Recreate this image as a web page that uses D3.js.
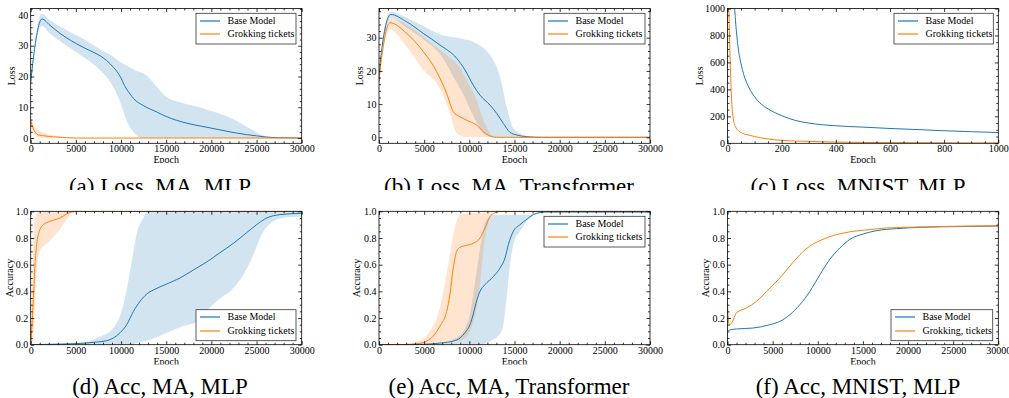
<!DOCTYPE html>
<html>
<head>
<meta charset="utf-8">
<script src="https://cdn.jsdelivr.net/npm/d3@7"></script>
<style>
  html, body { margin: 0; padding: 0; background: #fff; }
  svg { display: block; }
</style>
</head>
<body>
<svg id="chart" width="1009" height="398"></svg>
<script>
// ---- (a) Loss, MA, MLP ----
const aBaseX = [0, 300, 1250, 2140, 3250, 4000, 5100, 6000, 7000, 7700, 8400, 9150, 9500, 10000, 10400, 11000, 11400, 12500, 14000, 15000, 17300, 19500, 21700, 23900, 25000, 26100, 27500, 30000];
const aBaseY = [18, 26, 38.7, 36.6, 34, 32.5, 30.6, 29.2, 27.8, 26.7, 25.2, 23.0, 21.8, 19.5, 17, 14.3, 12.8, 10.5, 8.4, 7.0, 4.8, 3.5, 2.2, 1.1, 0.7, 0.3, 0.1, 0];
const aBaseBandX = [0, 300, 1250, 2000, 4000, 5800, 7700, 9150, 9900, 10600, 11400, 12100, 12500, 14000, 15000, 16800, 18700, 20600, 22400, 24300, 25800, 27000, 30000];
const aBaseHi = [19, 27, 40.5, 38.6, 35, 32.3, 28.8, 26.4, 24.7, 23.6, 22.3, 21.4, 21, 16.6, 13.3, 11.4, 10, 8.2, 6.2, 3, 0.8, 0.2, 0];
const aBaseLo = [17, 25, 36.5, 34.3, 30, 26.4, 22, 16.6, 11.7, 5.7, 1.9, 0.2, 0, 0, 0, 0, 0, 0, 0, 0, 0, 0, 0];
const aTicketX = [0, 300, 660, 1000, 1400, 2000, 3000, 4000, 5000, 30000];
const aTicketY = [5.5, 3, 1.3, 0.9, 0.75, 0.5, 0.3, 0.1, 0, 0];
const aTicketHi = [6.5, 4.5, 2.6, 2.2, 1.8, 1.2, 0.6, 0.15, 0, 0];
const aTicketLo = [4.5, 1.8, 0.4, 0.2, 0.1, 0.05, 0, 0, 0, 0];

// ---- (b) Loss, MA, Transformer ----
const bBaseX = [0, 200, 1290, 3060, 4910, 6750, 8600, 9520, 10440, 11180, 12290, 13030, 13760, 14500, 15240, 16350, 18000, 30000];
const bBaseY = [17, 24, 37, 34.8, 31.3, 27.8, 23.8, 20.3, 15.7, 12.7, 9.7, 7.2, 4.2, 1.5, 0.7, 0.2, 0, 0];
const bBaseBandX = [0, 200, 1290, 3060, 4910, 6750, 8600, 9500, 10070, 10810, 11550, 12290, 12800, 13400, 14130, 14870, 15980, 17000, 30000];
const bBaseHi = [18, 25, 37.8, 36, 33.5, 31, 30, 29.5, 29.2, 28.2, 27, 24.8, 22.5, 18.3, 9.2, 2.7, 0.7, 0.1, 0];
const bBaseLo = [16, 23, 36, 33, 29.5, 25.2, 16.5, 12, 8.5, 4.5, 1.2, 0.2, 0, 0, 0, 0, 0, 0, 0];
const bTicketX = [0, 200, 1220, 3060, 4910, 6380, 7490, 8230, 8970, 10070, 10810, 11550, 12290, 13000, 30000];
const bTicketY = [17, 22, 34.5, 31.3, 25.8, 19.8, 13.2, 7.7, 6.2, 4.7, 3.7, 1.7, 0.4, 0, 0];
const bTicketBandX = [0, 200, 1220, 3060, 4910, 6750, 7860, 8600, 9700, 10810, 11550, 12290, 13000, 30000];
const bTicketHi = [18, 24, 36, 34, 30.3, 26.3, 24, 22.3, 17.2, 11.2, 5.2, 1.2, 0, 0];
const bTicketLo = [16, 21, 32.5, 27.3, 20.3, 14.7, 7.2, 1.2, 0, 0, 0, 0, 0, 0];

// ---- (c) Loss, MNIST, MLP ----
const cBaseX = [20, 25, 30, 40, 50, 60, 80, 100, 125, 150, 200, 250, 300, 400, 500, 600, 700, 800, 900, 1000];
const cBaseY = [1300, 1050, 900, 700, 590, 510, 410, 345, 290, 255, 205, 170, 150, 130, 120, 110, 102, 93, 86, 80];
const cTicketX = [0, 5, 10, 15, 20, 30, 50, 80, 100, 150, 200, 300, 400, 600, 800, 1000];
const cTicketY = [1500, 1000, 600, 330, 200, 120, 80, 60, 50, 32, 22, 14, 9, 5, 3, 2];

// ---- (d) Acc, MA, MLP ----
const dBaseX = [0, 2000, 5000, 7300, 8400, 9150, 9900, 10630, 11370, 12100, 12840, 13580, 15060, 16530, 18000, 19480, 20960, 22440, 23910, 25020, 26130, 27600, 30000];
const dBaseY = [0, 0.003, 0.008, 0.02, 0.03, 0.05, 0.09, 0.15, 0.25, 0.325, 0.38, 0.41, 0.455, 0.5, 0.56, 0.62, 0.69, 0.76, 0.84, 0.9, 0.95, 0.975, 0.985];
const dBaseBandX = [0, 5000, 7675, 9150, 10260, 11000, 11370, 11735, 12470, 13030, 15060, 16900, 18750, 19480, 20590, 22440, 23540, 24650, 25760, 26860, 28340, 30000];
const dBaseHi = [0, 0.01, 0.06, 0.125, 0.3, 0.55, 0.7, 0.83, 0.95, 1, 1, 1, 1, 1, 1, 1, 1, 1, 1, 1, 1, 1];
const dBaseLo = [0, 0, 0, 0, 0, 0, 0.005, 0.01, 0.025, 0.035, 0.09, 0.14, 0.18, 0.25, 0.325, 0.425, 0.525, 0.675, 0.85, 0.925, 0.955, 0.96];
const dTicketX = [0, 150, 300, 480, 660, 960, 1400, 2140, 3250, 3985, 4540, 5500, 30000];
const dTicketY = [0, 0.15, 0.35, 0.6, 0.75, 0.85, 0.9, 0.925, 0.95, 0.98, 0.995, 1, 1];
const dTicketBandX = [0, 150, 300, 480, 660, 1030, 2140, 3620, 4350, 5000, 30000];
const dTicketHi = [0, 0.4, 0.8, 0.93, 0.98, 1, 1, 1, 1, 1, 1];
const dTicketLo = [0, 0.02, 0.05, 0.3, 0.55, 0.7, 0.78, 0.9, 0.975, 1, 1];

// ---- (e) Acc, MA, Transformer ----
const eBaseX = [0, 5000, 6010, 7120, 8230, 8970, 9520, 10070, 10440, 10810, 11180, 11730, 12660, 13400, 13950, 14320, 14870, 15610, 16350, 17090, 17820, 18500, 30000];
const eBaseY = [0, 0.003, 0.007, 0.015, 0.027, 0.05, 0.09, 0.15, 0.23, 0.33, 0.4, 0.45, 0.51, 0.575, 0.65, 0.75, 0.85, 0.9, 0.94, 0.975, 0.99, 0.995, 0.995];
const eBaseBandX = [0, 6000, 7000, 8230, 9330, 10070, 10810, 11370, 11920, 12660, 13400, 13760, 14130, 14500, 14870, 15610, 16350, 16720, 17090, 17500, 18000, 30000];
const eBaseHi = [0, 0.005, 0.015, 0.04, 0.1, 0.23, 0.55, 0.8, 0.94, 0.975, 0.975, 0.975, 0.975, 0.975, 0.975, 0.975, 0.975, 0.975, 0.985, 0.995, 1, 1];
const eBaseLo = [0, 0, 0, 0, 0, 0, 0, 0.003, 0.01, 0.04, 0.08, 0.15, 0.35, 0.6, 0.75, 0.85, 0.925, 0.95, 0.975, 0.985, 0.99, 0.99];
const eTicketX = [0, 3000, 4170, 5280, 6010, 6750, 7490, 7860, 8230, 8600, 8970, 9700, 10440, 11180, 11730, 12290, 12840, 13500, 30000];
const eTicketY = [0, 0.002, 0.007, 0.027, 0.065, 0.14, 0.25, 0.38, 0.58, 0.7, 0.73, 0.745, 0.76, 0.8, 0.875, 0.96, 0.99, 1, 1];
const eTicketBandX = [0, 3000, 4170, 5650, 6750, 7490, 8230, 8790, 9330, 10070, 10810, 11180, 11550, 11920, 12290, 12660, 13000, 30000];
const eTicketHi = [0, 0.005, 0.02, 0.1, 0.28, 0.53, 0.825, 0.96, 0.98, 0.985, 0.99, 0.99, 0.995, 1, 1, 1, 1, 1];
const eTicketLo = [0, 0, 0, 0.005, 0.01, 0.02, 0.028, 0.03, 0.04, 0.1, 0.28, 0.45, 0.7, 0.875, 0.96, 0.995, 1, 1];

// ---- (f) Acc, MNIST, MLP ----
const fBaseX = [0, 200, 1000, 2850, 4690, 5800, 6910, 8020, 9130, 10240, 11340, 12450, 13560, 15040, 16520, 18730, 21320, 25020, 30000];
const fBaseY = [0.1, 0.11, 0.118, 0.125, 0.15, 0.175, 0.225, 0.3, 0.4, 0.525, 0.64, 0.725, 0.79, 0.83, 0.855, 0.87, 0.88, 0.885, 0.89];
const fTicketX = [0, 185, 440, 1000, 2100, 3215, 4690, 5800, 6910, 8020, 9130, 10240, 12080, 13930, 15780, 17630, 21320, 25020, 30000];
const fTicketY = [0.3, 0.15, 0.16, 0.24, 0.275, 0.325, 0.425, 0.5, 0.59, 0.675, 0.74, 0.78, 0.825, 0.85, 0.8625, 0.875, 0.8825, 0.8875, 0.8925];

const captions = ['(a) Loss, MA, MLP', '(b) Loss, MA, Transformer', '(c) Loss, MNIST, MLP',
  '(d) Acc, MA, MLP', '(e) Acc, MA, Transformer', '(f) Acc, MNIST, MLP'];
const legendLabels = ['Base Model', 'Grokking tickets'];
const legendLabelsF = ['Base Model', 'Grokking, tickets'];
const epochTicks = [0, 5000, 10000, 15000, 20000, 25000, 30000];
const epochTicksShort = [0, 200, 400, 600, 800, 1000];
const lossTicks = [0, 10, 20, 30, 40];
const lossTicksB = [0, 10, 20, 30];
const lossTicksC = [0, 200, 400, 600, 800, 1000];
const accTicks = [0, 0.2, 0.4, 0.6, 0.8, 1.0];

const BLUE = '#1f77b4';
const ORANGE = '#ff7f0e';
const FONT = '"Liberation Serif", "Times New Roman", serif';

const colA = { left: 30.7, right: 301.7 };
const colB = { left: 379, right: 650 };
const colC = { left: 727.5, right: 998.3 };
const row1 = { top: 8.5, bottom: 143.3 };
const row2 = { top: 211.3, bottom: 344.7 };

const panels = [
  { ...colA, ...row1, xDomain: [0, 30000], yDomain: [-1.72, 42.1], xTicks: epochTicks, xMinor: 1000,
    yTicks: lossTicks, yMinor: 2, yFmt: d3.format('d'), ylabel: 'Loss', ylabelOff: 16,
    legend: [196, 13.3, 100, 30.7], labels: legendLabels, caption: captions[0], capX: 160, capY: 193.5,
    bands: [[aBaseBandX, aBaseLo, aBaseHi, BLUE], [aTicketX, aTicketLo, aTicketHi, ORANGE]],
    lines: [[aBaseX, aBaseY, BLUE], [aTicketX, aTicketY, ORANGE]] },
  { ...colB, ...row1, xDomain: [0, 30000], yDomain: [-1.8, 38.8], xTicks: epochTicks, xMinor: 1000,
    yTicks: lossTicksB, yMinor: 2, yFmt: d3.format('d'), ylabel: 'Loss', ylabelOff: 16,
    legend: [544, 13.3, 101, 30.7], labels: legendLabels, caption: captions[1], capX: 509, capY: 193.5,
    bands: [[bBaseBandX, bBaseLo, bBaseHi, BLUE], [bTicketBandX, bTicketLo, bTicketHi, ORANGE]],
    lines: [[bBaseX, bBaseY, BLUE], [bTicketX, bTicketY, ORANGE]] },
  { ...colC, ...row1, xDomain: [0, 1000], yDomain: [0, 1000], xTicks: epochTicksShort, xMinor: 50,
    yTicks: lossTicksC, yMinor: 50, yFmt: d3.format('d'), ylabel: 'Loss', ylabelOff: 25,
    legend: [894, 13.3, 99.3, 30.7], labels: legendLabels, caption: captions[2], capX: 858, capY: 193.5,
    bands: [],
    lines: [[cBaseX, cBaseY, BLUE], [cTicketX, cTicketY, ORANGE]] },
  { ...colA, ...row2, xDomain: [0, 30000], yDomain: [0, 1], xTicks: epochTicks, xMinor: 1000,
    yTicks: accTicks, yMinor: 0.05, yFmt: d3.format('.1f'), ylabel: 'Accuracy', ylabelOff: 18,
    legend: [196, 309.7, 100, 31], labels: legendLabels, caption: captions[3], capX: 160, capY: 394,
    bands: [[dBaseBandX, dBaseLo, dBaseHi, BLUE], [dTicketBandX, dTicketLo, dTicketHi, ORANGE]],
    lines: [[dBaseX, dBaseY, BLUE], [dTicketX, dTicketY, ORANGE]] },
  { ...colB, ...row2, xDomain: [0, 30000], yDomain: [0, 1], xTicks: epochTicks, xMinor: 1000,
    yTicks: accTicks, yMinor: 0.05, yFmt: d3.format('.1f'), ylabel: 'Accuracy', ylabelOff: 19.5,
    legend: [544, 216.3, 101, 30.7], labels: legendLabels, caption: captions[4], capX: 509, capY: 394,
    bands: [[eBaseBandX, eBaseLo, eBaseHi, BLUE], [eTicketBandX, eTicketLo, eTicketHi, ORANGE]],
    lines: [[eBaseX, eBaseY, BLUE], [eTicketX, eTicketY, ORANGE]] },
  { ...colC, ...row2, xDomain: [0, 30000], yDomain: [0, 1], xTicks: epochTicks, xMinor: 1000,
    yTicks: accTicks, yMinor: 0.05, yFmt: d3.format('.1f'), ylabel: 'Accuracy', ylabelOff: 19,
    legend: [891, 309.7, 101.7, 31], labels: legendLabelsF, caption: captions[5], capX: 858, capY: 394,
    bands: [],
    lines: [[fBaseX, fBaseY, BLUE], [fTicketX, fTicketY, ORANGE]] }
];

const svg = d3.select('#chart');
const defs = svg.append('defs');

// the top row caption is partly hidden by the bottom row
defs.append('clipPath').attr('id', 'cap-clip')
  .append('rect').attr('x', 0).attr('y', 0).attr('width', 1009).attr('height', 190);

function minorValues(domain, step, majors) {
  const lo = Math.ceil(domain[0] / step - 1e-9);
  const hi = Math.floor(domain[1] / step + 1e-9);
  return d3.range(lo, hi + 1).map((k) => +(k * step).toFixed(6))
    .filter((v) => !majors.some((m) => Math.abs(m - v) < 1e-9));
}

function styleAxis(sel) {
  sel.select('.domain').remove();
  sel.selectAll('line').attr('stroke', '#000').attr('stroke-width', 0.8);
  sel.selectAll('text').attr('fill', '#000').style('font-family', FONT).style('font-size', '10px');
}

panels.forEach((p, i) => {
  const x = d3.scaleLinear().domain(p.xDomain).range([p.left, p.right]);
  const y = d3.scaleLinear().domain(p.yDomain).range([p.bottom, p.top]);
  const g = svg.append('g');

  defs.append('clipPath').attr('id', `plot-${i}`)
    .append('rect')
    .attr('x', p.left).attr('y', p.top)
    .attr('width', p.right - p.left).attr('height', p.bottom - p.top);
  defs.append('clipPath').attr('id', `label-${i}`)
    .append('rect')
    .attr('x', p.left - 40).attr('y', 0)
    .attr('width', p.right - p.left + 80).attr('height', p.bottom + 19.7);

  const plot = g.append('g').attr('clip-path', `url(#plot-${i})`);

  p.bands.forEach(([bx, lo, hi, color]) => {
    const area = d3.area()
      .x((d, j) => x(bx[j]))
      .y0((d, j) => y(lo[j]))
      .y1((d, j) => y(hi[j]))
      .curve(d3.curveMonotoneX);
    plot.append('path').datum(bx).attr('d', area)
      .attr('fill', color).attr('fill-opacity', 0.2).attr('stroke', 'none');
  });

  p.lines.forEach(([lx, ly, color]) => {
    const line = d3.line()
      .x((d, j) => x(lx[j]))
      .y((d, j) => y(ly[j]))
      .curve(d3.curveMonotoneX);
    plot.append('path').datum(lx).attr('d', line)
      .attr('fill', 'none').attr('stroke', color).attr('stroke-width', 1);
  });

  const xMinor = minorValues(p.xDomain, p.xMinor, p.xTicks);
  const yMinor = minorValues(p.yDomain, p.yMinor, p.yTicks);

  // bottom / top
  g.append('g').attr('transform', `translate(0,${p.bottom})`)
    .call(d3.axisBottom(x).tickValues(p.xTicks).tickSize(-3.5).tickSizeOuter(0).tickPadding(2).tickFormat(d3.format('d')))
    .call(styleAxis);
  g.append('g').attr('transform', `translate(0,${p.bottom})`)
    .call(d3.axisBottom(x).tickValues(xMinor).tickSize(-2).tickSizeOuter(0).tickFormat(''))
    .call(styleAxis);
  g.append('g').attr('transform', `translate(0,${p.top})`)
    .call(d3.axisTop(x).tickValues(p.xTicks).tickSize(-3.5).tickSizeOuter(0).tickFormat(''))
    .call(styleAxis);
  g.append('g').attr('transform', `translate(0,${p.top})`)
    .call(d3.axisTop(x).tickValues(xMinor).tickSize(-2).tickSizeOuter(0).tickFormat(''))
    .call(styleAxis);

  // left / right
  g.append('g').attr('transform', `translate(${p.left},0)`)
    .call(d3.axisLeft(y).tickValues(p.yTicks).tickSize(-3.5).tickSizeOuter(0).tickPadding(2.5).tickFormat(p.yFmt))
    .call(styleAxis);
  g.append('g').attr('transform', `translate(${p.left},0)`)
    .call(d3.axisLeft(y).tickValues(yMinor).tickSize(-2).tickSizeOuter(0).tickFormat(''))
    .call(styleAxis);
  g.append('g').attr('transform', `translate(${p.right},0)`)
    .call(d3.axisRight(y).tickValues(p.yTicks).tickSize(-3.5).tickSizeOuter(0).tickFormat(''))
    .call(styleAxis);
  g.append('g').attr('transform', `translate(${p.right},0)`)
    .call(d3.axisRight(y).tickValues(yMinor).tickSize(-2).tickSizeOuter(0).tickFormat(''))
    .call(styleAxis);

  g.append('rect')
    .attr('x', p.left).attr('y', p.top)
    .attr('width', p.right - p.left).attr('height', p.bottom - p.top)
    .attr('fill', 'none').attr('stroke', '#000').attr('stroke-width', 0.8);

  // axis labels
  g.append('text')
    .attr('clip-path', `url(#label-${i})`)
    .attr('x', (p.left + p.right) / 2)
    .attr('y', p.bottom + 20)
    .attr('text-anchor', 'middle')
    .style('font-family', FONT).style('font-size', '10px')
    .text('Epoch');

  g.append('text')
    .attr('transform', `translate(${p.left - p.ylabelOff},${(p.top + p.bottom) / 2}) rotate(-90)`)
    .attr('text-anchor', 'middle')
    .style('font-family', FONT).style('font-size', '10px')
    .text(p.ylabel);

  // legend
  const [lx, ly, lw, lh] = p.legend;
  const leg = g.append('g');
  leg.append('rect')
    .attr('x', lx).attr('y', ly).attr('width', lw).attr('height', lh)
    .attr('fill', '#fff').attr('stroke', '#333').attr('stroke-width', 0.8);
  [BLUE, ORANGE].forEach((c, k) => {
    const yy = Math.round(ly + 7.3 + k * 13.8);
    leg.append('line')
      .attr('x1', lx + 4).attr('x2', lx + 24).attr('y1', yy).attr('y2', yy)
      .attr('stroke', c).attr('stroke-width', 1.2);
    leg.append('text')
      .attr('x', lx + 31.5).attr('y', yy).attr('dy', '0.33em')
      .style('font-family', FONT).style('font-size', '10px')
      .text(p.labels[k]);
  });

  // caption
  const cap = svg.append('text')
    .attr('x', p.capX).attr('y', p.capY)
    .attr('text-anchor', 'middle')
    .style('font-family', FONT).style('font-size', '23px')
    .text(p.caption);
  if (i < 3) cap.attr('clip-path', 'url(#cap-clip)');
});
</script>
</body>
</html>
